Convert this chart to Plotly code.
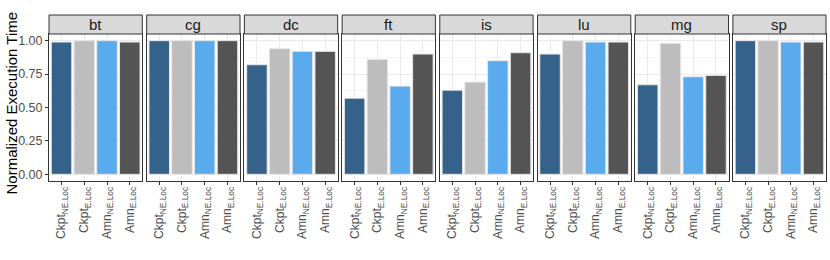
import plotly.graph_objects as go

benchmarks = ["bt", "cg", "dc", "ft", "is", "lu", "mg", "sp"]
configs = ["Ckpt<sub>NE.Loc</sub>", "Ckpt<sub>E.Loc</sub>", "Amn<sub>NE.Loc</sub>", "Amn<sub>E.Loc</sub>"]
colors = ["#34628b", "#bdbdbd", "#5aabee", "#545454"]

ckpt_ne = [0.99, 1.00, 0.82, 0.57, 0.63, 0.90, 0.67, 1.00]
ckpt_e = [1.00, 1.00, 0.94, 0.86, 0.69, 1.00, 0.98, 1.00]
amn_ne = [1.00, 1.00, 0.92, 0.66, 0.85, 0.99, 0.73, 0.99]
amn_e = [0.99, 1.00, 0.92, 0.90, 0.91, 0.99, 0.74, 0.99]
series = [ckpt_ne, ckpt_e, amn_ne, amn_e]

yticks = [0.0, 0.25, 0.5, 0.75, 1.0]
ytick_labels = ["0.00", "0.25", "0.50", "0.75", "1.00"]

W, H = 830, 260
ml, mr, mt, mb = 49, 4, 34, 79
plot_w = W - ml - mr
plot_h = H - mt - mb
pitch = 97.7
panel = 93.3
FONT = "Liberation Sans, Arial, sans-serif"

fig = go.Figure()
for i, b in enumerate(benchmarks):
    ax = "" if i == 0 else str(i + 1)
    vals = [s[i] for s in series]
    fig.add_trace(go.Bar(
        x=configs, y=vals, xaxis="x" + ax, yaxis="y" + ax,
        marker=dict(color=colors, line=dict(color="#e6e6e6", width=1)),
        width=0.9, showlegend=False,
    ))
    x0 = (i * pitch) / plot_w
    x1 = (i * pitch + panel) / plot_w
    xa = dict(domain=[x0, min(x1, 1.0)], anchor="y" + ax, type="category",
              showgrid=True, gridcolor="#ebebeb", gridwidth=1,
              showline=True, mirror=True, linecolor="#333333", linewidth=1,
              ticks="outside", ticklen=3, tickcolor="#333333",
              tickangle=-90, automargin=False, ticklabelstandoff=-3,
              tickfont=dict(family=FONT, size=12, color="#4d4d4d"),
              range=[-0.55, 3.55], zeroline=False)
    ya = dict(anchor="x" + ax, range=[-0.05, 1.05], tickvals=yticks,
              ticktext=ytick_labels, showgrid=True, gridcolor="#ebebeb",
              minor=dict(tickvals=[0.125, 0.375, 0.625, 0.875], showgrid=True, gridcolor="#f5f5f5", ticks=""),
              showline=True, mirror=True, linecolor="#333333", linewidth=1,
              zeroline=False, ticks="outside" if i == 0 else "", ticklen=3, tickcolor="#333333",
              showticklabels=(i == 0), automargin=False,
              tickfont=dict(family=FONT, size=12.5, color="#4d4d4d"))
    fig.update_layout(**{"xaxis" + ax: xa, "yaxis" + ax: ya})
    strip_h = 19 / plot_h
    fig.add_shape(type="rect", xref="x" + ax + " domain", yref="y" + ax + " domain",
                  x0=0, x1=1, y0=1, y1=1 + strip_h,
                  fillcolor="#d9d9d9", line=dict(color="#333333", width=1))
    fig.add_annotation(text=b, xref="x" + ax + " domain", yref="y" + ax + " domain",
                       x=0.5, y=1 + strip_h / 2, showarrow=False, yanchor="middle",
                       font=dict(family=FONT, size=15, color="#1a1a1a"))

fig.add_annotation(text="Normalized Execution Time", xref="paper", yref="paper",
                   x=(11 - ml) / plot_w, y=(181 - 103.5) / plot_h, textangle=-90,
                   showarrow=False, xanchor="center", yanchor="middle",
                   font=dict(family=FONT, size=15, color="#000000"))

fig.update_layout(width=W, height=H, margin=dict(l=ml, r=mr, t=mt, b=mb),
                  plot_bgcolor="white", paper_bgcolor="white", bargap=0.1)
fig.write_html("out.html", config={"displayModeBar": False},
               post_script="document.body.style.margin='0';")
